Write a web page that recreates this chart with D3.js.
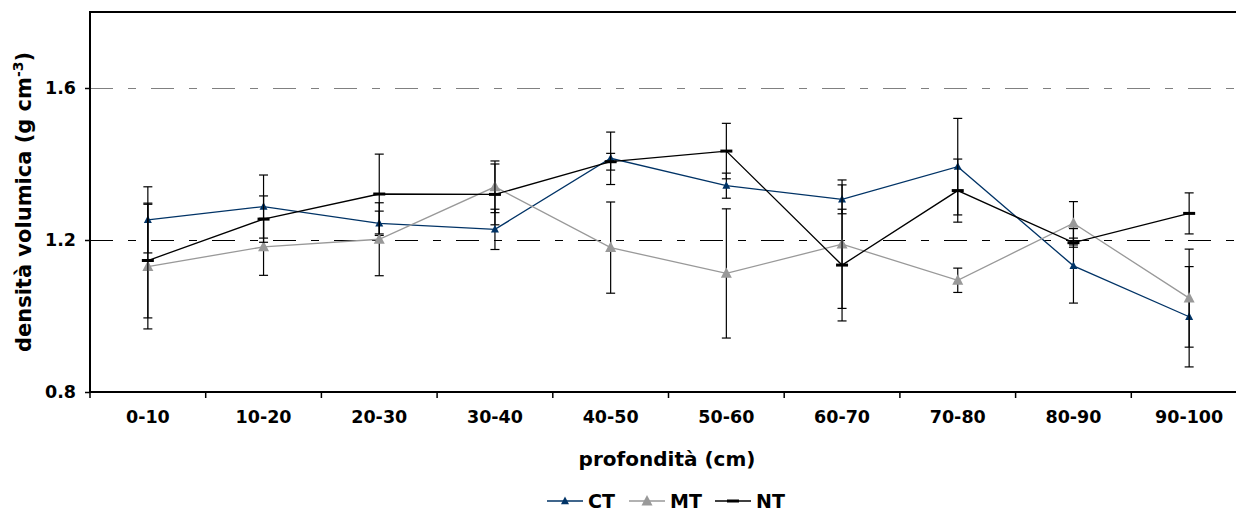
<!DOCTYPE html>
<html>
<head>
<meta charset="utf-8">
<script src="https://cdn.jsdelivr.net/npm/d3@7"></script>
<style>
  html, body { margin: 0; padding: 0; background: #fff; }
  svg { display: block; font-family: "DejaVu Sans", Verdana, sans-serif; }
</style>
</head>
<body>
<div id="chart"></div>
<script>
const categories = ["0-10", "10-20", "20-30", "30-40", "40-50", "50-60", "60-70", "70-80", "80-90", "90-100"];
const ctValues = [1.253, 1.288, 1.244, 1.228, 1.415, 1.343, 1.307, 1.393, 1.132, 0.998];
const ctErrors = [0.087, 0.083, 0.032, 0.053, 0.069, 0.033, 0.038, 0.127, 0.098, 0.132];
const mtValues = [1.130, 1.182, 1.202, 1.340, 1.180, 1.112, 1.189, 1.094, 1.244, 1.047];
const mtErrors = [0.164, 0.075, 0.096, 0.068, 0.120, 0.170, 0.169, 0.032, 0.057, 0.129];
const ntValues = [1.146, 1.255, 1.321, 1.320, 1.406, 1.434, 1.134, 1.330, 1.193, 1.270];
const ntErrors = [0.151, 0.061, 0.105, 0.080, 0.022, 0.073, 0.147, 0.083, 0.012, 0.054];
const yTicks = [0.8, 1.2, 1.6];

function renderChart(selector = "#chart") {
    const container = d3.select(selector);
    container.html("");

    const width = 1236;
    const height = 515;
    const margin = { top: 12, right: -11, bottom: 123, left: 90 };

    const svg = container.append("svg")
        .attr("width", width)
        .attr("height", height);

    const x = d3.scaleBand()
        .domain(categories)
        .range([margin.left, width - margin.right]);

    const y = d3.scaleLinear()
        .domain([0.8, 1.8])
        .range([height - margin.bottom, margin.top]);

    const series = [
        { name: "CT", values: ctValues, errors: ctErrors, color: "#003366", marker: "tri-small" },
        { name: "MT", values: mtValues, errors: mtErrors, color: "#999999", marker: "tri-big" },
        { name: "NT", values: ntValues, errors: ntErrors, color: "#000000", marker: "dash" }
    ];

    // gridlines (long dash - short dash)
    svg.append("g")
        .selectAll("line")
        .data(yTicks.filter(d => d > 0.8))
        .join("line")
        .attr("x1", margin.left)
        .attr("x2", width)
        .attr("y1", d => y(d) + 0.5)
        .attr("y2", d => y(d) + 0.5)
        .attr("stroke", d => d === 1.2 ? "#000" : "#808080")
        .attr("stroke-width", 1)
        .attr("stroke-dasharray", "23,15,8,15");

    // frame
    svg.append("rect")
        .attr("x", margin.left)
        .attr("y", margin.top)
        .attr("width", x.range()[1] - margin.left)
        .attr("height", y(0.8) - margin.top)
        .attr("fill", "none")
        .attr("stroke", "#000")
        .attr("stroke-width", 2);

    // axes
    const yAxis = svg.append("g")
        .attr("transform", `translate(${margin.left},0)`)
        .call(d3.axisLeft(y).tickValues(yTicks).tickFormat(d3.format(".1f")).tickSizeOuter(0).tickSize(5).tickPadding(9));
    yAxis.select(".domain").remove();
    yAxis.selectAll("line").attr("stroke", "#000").attr("stroke-width", 1.5);
    yAxis.selectAll("text")
        .attr("font-size", 17.5)
        .attr("font-weight", "bold")
        .attr("fill", "#000")
        .attr("font-family", "DejaVu Sans, Verdana, sans-serif");

    const xAxis = svg.append("g")
        .attr("transform", `translate(0,${y(0.8)})`)
        .call(d3.axisBottom(x).tickSize(0).tickPadding(19));
    xAxis.select(".domain").remove();
    xAxis.selectAll("text")
        .attr("font-size", 17.5)
        .attr("font-weight", "bold")
        .attr("fill", "#000")
        .attr("font-family", "DejaVu Sans, Verdana, sans-serif");

    // boundary ticks
    svg.append("g")
        .selectAll("line")
        .data(categories)
        .join("line")
        .attr("x1", d => x(d))
        .attr("x2", d => x(d))
        .attr("y1", y(0.8))
        .attr("y2", y(0.8) + 6)
        .attr("stroke", "#000")
        .attr("stroke-width", 1.5);

    const cx = d => x(d) + x.bandwidth() / 2;
    const capW = 4.5;

    series.forEach(s => {
        const pts = categories.map((c, i) => ({ c, v: s.values[i], e: s.errors[i] }));
        const g = svg.append("g");

        // error bars
        const eb = g.append("g").attr("stroke", "#000").attr("stroke-width", 1.2);
        pts.forEach(p => {
            const X = cx(p.c);
            eb.append("line").attr("x1", X).attr("x2", X).attr("y1", y(p.v + p.e)).attr("y2", y(p.v - p.e));
            eb.append("line").attr("x1", X - capW).attr("x2", X + capW).attr("y1", y(p.v + p.e)).attr("y2", y(p.v + p.e));
            eb.append("line").attr("x1", X - capW).attr("x2", X + capW).attr("y1", y(p.v - p.e)).attr("y2", y(p.v - p.e));
        });

        g.append("path")
            .datum(pts)
            .attr("fill", "none")
            .attr("stroke", s.color)
            .attr("stroke-width", 1.3)
            .attr("d", d3.line().x(p => cx(p.c)).y(p => y(p.v)));

        pts.forEach(p => drawMarker(g, s, cx(p.c), y(p.v)));
    });

    function drawMarker(g, s, X, Y) {
        if (s.marker === "dash") {
            g.append("line")
                .attr("x1", X - 6).attr("x2", X + 6)
                .attr("y1", Y).attr("y2", Y)
                .attr("stroke", s.color).attr("stroke-width", 3);
        } else {
            const r = s.marker === "tri-big" ? 5.5 : 4;
            g.append("path")
                .attr("d", `M${X},${Y - r * 1.1}L${X + r},${Y + r * 0.8}L${X - r},${Y + r * 0.8}Z`)
                .attr("fill", s.color);
        }
    }

    // y axis title
    const yt = svg.append("text")
        .attr("transform", `translate(31,${(margin.top + y(0.8)) / 2}) rotate(-90)`)
        .attr("text-anchor", "middle")
        .attr("font-size", 21)
        .attr("font-weight", "bold");
    yt.append("tspan").text("densità volumica (g cm");
    yt.append("tspan").attr("font-size", 14).attr("dy", -8).text("-3");
    yt.append("tspan").attr("dy", 8).text(")");

    // x axis title
    svg.append("text")
        .attr("x", 667)
        .attr("y", 466)
        .attr("text-anchor", "middle")
        .attr("font-size", 20)
        .attr("font-weight", "bold")
        .text("profondità (cm)");

    // legend
    const legendX = [547, 629, 715];
    series.forEach((s, i) => {
        const lg = svg.append("g");
        const ly = 501;
        lg.append("line")
            .attr("x1", legendX[i]).attr("x2", legendX[i] + 36)
            .attr("y1", ly).attr("y2", ly)
            .attr("stroke", s.color).attr("stroke-width", 1.3);
        drawMarker(lg, s, legendX[i] + 18, ly);
        lg.append("text")
            .attr("x", legendX[i] + 41)
            .attr("y", ly + 7)
            .attr("font-size", 19)
            .attr("font-weight", "bold")
            .text(s.name);
    });
}

renderChart();
</script>
</body>
</html>
